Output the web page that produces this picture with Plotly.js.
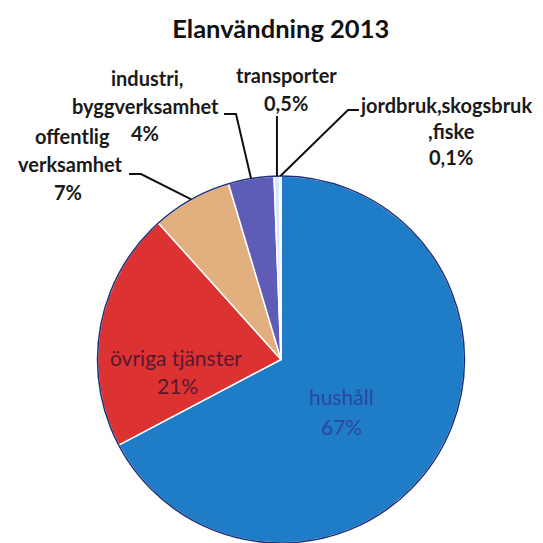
<!DOCTYPE html>
<html>
<head>
<meta charset="utf-8">
<script src="https://cdn.plot.ly/plotly-3.0.1.min.js"></script>
<style>
html,body{margin:0;padding:0;background:#fff;overflow:hidden;}
#chart{width:543px;height:543px;}
</style>
</head>
<body>
<div id="chart"></div>
<script>
// ---- data ----
const categories = ['hushåll', 'övriga tjänster', 'offentlig verksamhet', 'industri, byggverksamhet', 'transporter', 'jordbruk,skogsbruk,fiske'];
const values = [67, 21, 7, 4, 0.5, 0.1];
const valueLabels = ['67%', '21%', '7%', '4%', '0,5%', '0,1%'];
const sliceColors = ['#1f7cc6', '#dc3232', '#e2b07e', '#5f5cb8', '#d8e8f6', '#2a7fcc'];
const titleText = 'Elanvändning 2013';

// ---- geometry helpers (pixel -> paper) ----
const W = 543, H = 543;
const px = x => x / W;
const py = y => 1 - y / H;
const dom = {x: [97 / W, 465 / W], y: [0, 367 / H]};
const cx = (dom.x[0] + dom.x[1]) / 2 * W;
const r = Math.min((dom.x[1] - dom.x[0]) * W, (dom.y[1] - dom.y[0]) * H) / 2;
const cy = H - (dom.y[0] + dom.y[1]) / 2 * H;

const total = values.reduce((a, b) => a + b, 0);
const midAngle = [];
let acc = 0;
values.forEach(v => { midAngle.push((acc + v / 2) / total * 2 * Math.PI); acc += v; });
const edgePt = i => [cx + r * Math.sin(midAngle[i]), cy - r * Math.cos(midAngle[i])];

const trace = {
  type: 'pie',
  labels: categories,
  values: values,
  sort: false,
  direction: 'clockwise',
  rotation: 0,
  textinfo: 'none',
  hoverinfo: 'label+percent',
  marker: {colors: sliceColors, line: {color: '#ffffff', width: 1.5}},
  domain: dom,
  showlegend: false
};

const lblFont = {family: 'Lato, "DejaVu Sans", sans-serif', size: 20, color: '#1a1a1a', weight: 'bold'};
const redFont = {family: 'Lato, sans-serif', size: 21, color: '#5a1830'};
const blueFont = {family: 'Lato, sans-serif', size: 21, color: '#2b48a0'};
function txt(t, x, y, font) {
  return {text: t, x: px(x), y: py(y), xref: 'paper', yref: 'paper', showarrow: false,
          xanchor: 'center', yanchor: 'middle', font: font || lblFont};
}
const annotations = [
  txt('industri,', 147, 78), txt('byggverksamhet', 145, 106), txt(valueLabels[3], 145, 133),
  txt('offentlig', 72, 136), txt('verksamhet', 70, 164), txt(valueLabels[2], 68, 192),
  txt('transporter', 286, 75), txt(valueLabels[4], 286, 103),
  txt('jordbruk,skogsbruk', 446, 105), txt(',fiske', 451, 131), txt(valueLabels[5], 451, 157),
  txt(categories[1], 176, 357, redFont),
  txt(valueLabels[1], 177, 385, redFont),
  txt(categories[0], 342, 396, blueFont),
  txt(valueLabels[0], 342, 426, blueFont)
];

function path(points) {
  return {type: 'path', xref: 'paper', yref: 'paper', layer: 'above',
          path: points.map((p, k) => (k ? 'L' : 'M') + px(p[0]) + ',' + py(p[1])).join(' '),
          line: {color: '#111', width: 2}};
}
const tInd = edgePt(3), tOff = edgePt(2), tTra = edgePt(4), tJor = edgePt(5);
const shapes = [
  {type: 'circle', xref: 'paper', yref: 'paper', layer: 'above',
   x0: px(cx - r), x1: px(cx + r), y0: py(cy + r), y1: py(cy - r),
   line: {color: '#1d2f78', width: 1.5}},
  path([[224, 114], [236, 114], tInd]),
  path([[129, 174], [141, 174], tOff]),
  path([[tTra[0], 116], tTra]),
  path([[359, 110], [348, 110], tJor])
];

const layout = {
  width: W, height: H,
  margin: {l: 0, r: 0, t: 0, b: 0},
  paper_bgcolor: '#ffffff',
  title: {text: titleText, x: 0.517, xanchor: 'center', y: py(29), yref: 'container', yanchor: 'middle',
          font: {family: 'Lato, sans-serif', size: 25.5, color: '#111', weight: 'bold'}},
  annotations: annotations,
  shapes: shapes
};

Plotly.newPlot('chart', [trace], layout, {displayModeBar: false, staticPlot: true});
</script>
</body>
</html>
